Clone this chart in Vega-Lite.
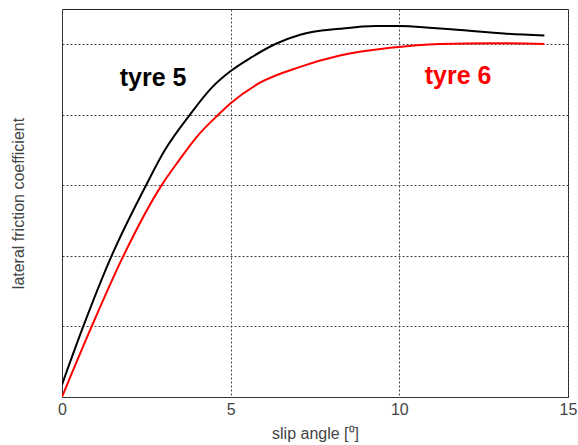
{
  "$schema": "https://vega.github.io/schema/vega-lite/v6.json",
  "width": 506,
  "height": 388,
  "autosize": "none",
  "padding": {"left": 62, "top": 9, "right": 10, "bottom": 48},
  "background": "white",
  "config": {
    "view": {"stroke": "#222", "strokeWidth": 1},
    "font": "Liberation Sans"
  },
  "datasets": {
    "curves": [
      {"tyre": "tyre 5", "slip": 0, "mu": 0.035},
      {"tyre": "tyre 5", "slip": 0.63, "mu": 0.2},
      {"tyre": "tyre 5", "slip": 1.47, "mu": 0.4},
      {"tyre": "tyre 5", "slip": 2.49, "mu": 0.6},
      {"tyre": "tyre 5", "slip": 3.05, "mu": 0.7},
      {"tyre": "tyre 5", "slip": 3.79, "mu": 0.8},
      {"tyre": "tyre 5", "slip": 4.44, "mu": 0.877},
      {"tyre": "tyre 5", "slip": 5, "mu": 0.924},
      {"tyre": "tyre 5", "slip": 5.6, "mu": 0.962},
      {"tyre": "tyre 5", "slip": 6.31, "mu": 1.0},
      {"tyre": "tyre 5", "slip": 7.06, "mu": 1.027},
      {"tyre": "tyre 5", "slip": 8.24, "mu": 1.044},
      {"tyre": "tyre 5", "slip": 9.3, "mu": 1.052},
      {"tyre": "tyre 5", "slip": 10, "mu": 1.052},
      {"tyre": "tyre 5", "slip": 11, "mu": 1.046},
      {"tyre": "tyre 5", "slip": 11.7, "mu": 1.041},
      {"tyre": "tyre 5", "slip": 13.18, "mu": 1.03},
      {"tyre": "tyre 5", "slip": 14.3, "mu": 1.025},
      {"tyre": "tyre 6", "slip": 0, "mu": 0.0},
      {"tyre": "tyre 6", "slip": 0.88, "mu": 0.2},
      {"tyre": "tyre 6", "slip": 1.82, "mu": 0.4},
      {"tyre": "tyre 6", "slip": 2.95, "mu": 0.6},
      {"tyre": "tyre 6", "slip": 3.47, "mu": 0.671},
      {"tyre": "tyre 6", "slip": 3.99, "mu": 0.737},
      {"tyre": "tyre 6", "slip": 4.63, "mu": 0.8},
      {"tyre": "tyre 6", "slip": 5, "mu": 0.833},
      {"tyre": "tyre 6", "slip": 5.87, "mu": 0.891},
      {"tyre": "tyre 6", "slip": 7.06, "mu": 0.936},
      {"tyre": "tyre 6", "slip": 8.24, "mu": 0.968},
      {"tyre": "tyre 6", "slip": 9.73, "mu": 0.99},
      {"tyre": "tyre 6", "slip": 11.2, "mu": 1.001},
      {"tyre": "tyre 6", "slip": 12.7, "mu": 1.003},
      {"tyre": "tyre 6", "slip": 14.3, "mu": 1.001}
    ],
    "labels": [
      {"tyre": "tyre 5", "slip": 2.7, "mu": 0.905},
      {"tyre": "tyre 6", "slip": 11.74, "mu": 0.91}
    ]
  },
  "encoding": {
    "x": {
      "field": "slip",
      "type": "quantitative",
      "scale": {"domain": [0, 15], "nice": false, "zero": false},
      "axis": {
        "title": "slip angle [⁰]",
        "values": [0, 5, 10, 15],
        "domain": false,
        "ticks": false,
        "labelPadding": 4,
        "labelFontSize": 16,
        "labelColor": "#444",
        "labelFlush": false,
        "titleFontSize": 16,
        "titleColor": "#444",
        "titleFontWeight": "normal",
        "titlePadding": 8,
        "grid": true,
        "gridColor": "#444",
        "gridDash": [2, 2],
        "gridWidth": 1
      }
    },
    "y": {
      "field": "mu",
      "type": "quantitative",
      "scale": {"domain": [0, 1.1], "nice": false, "zero": false},
      "axis": {
        "title": "lateral friction coefficient",
        "values": [0, 0.2, 0.4, 0.6, 0.8, 1.0],
        "labels": false,
        "domain": false,
        "ticks": false,
        "titleFontSize": 16,
        "titleColor": "#444",
        "titleFontWeight": "normal",
        "titleX": -44,
        "titleBaseline": "middle",
        "grid": true,
        "gridColor": "#444",
        "gridDash": [2, 2],
        "gridWidth": 1
      }
    },
    "color": {
      "field": "tyre",
      "type": "nominal",
      "scale": {"domain": ["tyre 5", "tyre 6"], "range": ["#000000", "#ff0000"]},
      "legend": null
    }
  },
  "layer": [
    {
      "data": {"name": "curves"},
      "mark": {"type": "line", "strokeWidth": 2, "interpolate": "monotone", "clip": true}
    },
    {
      "data": {"name": "labels"},
      "mark": {"type": "text", "fontSize": 25, "fontWeight": "bold", "baseline": "middle", "align": "center"},
      "encoding": {"text": {"field": "tyre"}}
    }
  ]
}
